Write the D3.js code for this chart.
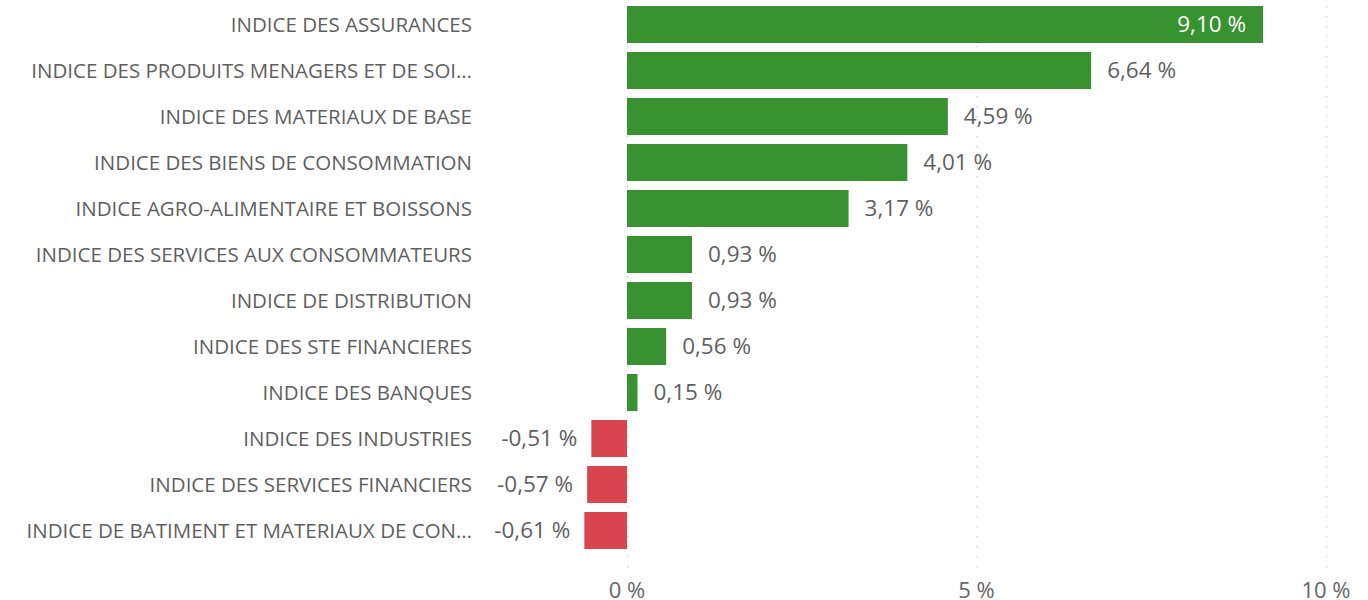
<!DOCTYPE html>
<html><head><meta charset="utf-8">
<script src="https://cdn.jsdelivr.net/npm/d3@7"></script>
<style>body{margin:0;background:#fff}svg{display:block}text{font-family:"Open Sans","Segoe UI",sans-serif}</style>
</head><body><svg id="c" width="1368" height="600"></svg>
<script>
const categories = ["INDICE DES ASSURANCES","INDICE DES PRODUITS MENAGERS ET DE SOI…","INDICE DES MATERIAUX DE BASE","INDICE DES BIENS DE CONSOMMATION","INDICE AGRO-ALIMENTAIRE ET BOISSONS","INDICE DES SERVICES AUX CONSOMMATEURS","INDICE DE DISTRIBUTION","INDICE DES STE FINANCIERES","INDICE DES BANQUES","INDICE DES INDUSTRIES","INDICE DES SERVICES FINANCIERS","INDICE DE BATIMENT ET MATERIAUX DE CON…"];
const values = [9.10,6.64,4.59,4.01,3.17,0.93,0.93,0.56,0.15,-0.51,-0.57,-0.61];
const ticks = [0,5,10];
const svg = d3.select("#c");
const x = d3.scaleLinear().domain([0,10]).range([627,1326]);
const y = d3.scaleBand().domain(categories).range([1.5,553.5]).paddingInner(9/46).paddingOuter(4.5/46);
const fmt = v => d3.format(".2f")(v).replace(".",",").replace("\u2212","-") + " %";
// gridlines
svg.append("g").selectAll("line").data(ticks).join("line")
 .attr("x1",d=>x(d)+0.5).attr("x2",d=>x(d)+0.5).attr("y1",6).attr("y2",568)
 .attr("stroke","#c8c8c8").attr("stroke-width",1.2).attr("stroke-dasharray","1.2,8.8");
// tick labels
svg.append("g").selectAll("text").data(ticks).join("text")
 .attr("x",d=>x(d)).attr("y",590).attr("dy","0.35em").attr("text-anchor","middle")
 .attr("font-size",22).attr("fill","#666").text(d=>d+" %");
// category labels
svg.append("g").selectAll("text").data(categories).join("text")
 .attr("x",472).attr("y",d=>y(d)+y.bandwidth()/2).attr("dy","0.35em").attr("text-anchor","end")
 .attr("font-size",20.5).attr("fill","#5f5f5f").text(d=>d);
// bars
svg.append("g").selectAll("rect").data(values).join("rect")
 .attr("x",d=>Math.min(x(0),x(d))).attr("width",d=>Math.abs(x(d)-x(0)))
 .attr("y",(d,i)=>y(categories[i])).attr("height",y.bandwidth())
 .attr("fill",d=>d>=0?"#399230":"#d9444f");
// value labels
svg.append("g").selectAll("text").data(values).join("text")
 .attr("x",d=> d>=8 ? x(d)-17 : d>=0 ? x(d)+16 : x(d)-14)
 .attr("y",(d,i)=>y(categories[i])+y.bandwidth()/2).attr("dy","0.35em")
 .attr("text-anchor",d=> d>=8 || d<0 ? "end":"start")
 .attr("font-size",22.5).attr("fill",d=>d>=8?"#fff":"#5f5f5f").text(fmt);
</script></body></html>
